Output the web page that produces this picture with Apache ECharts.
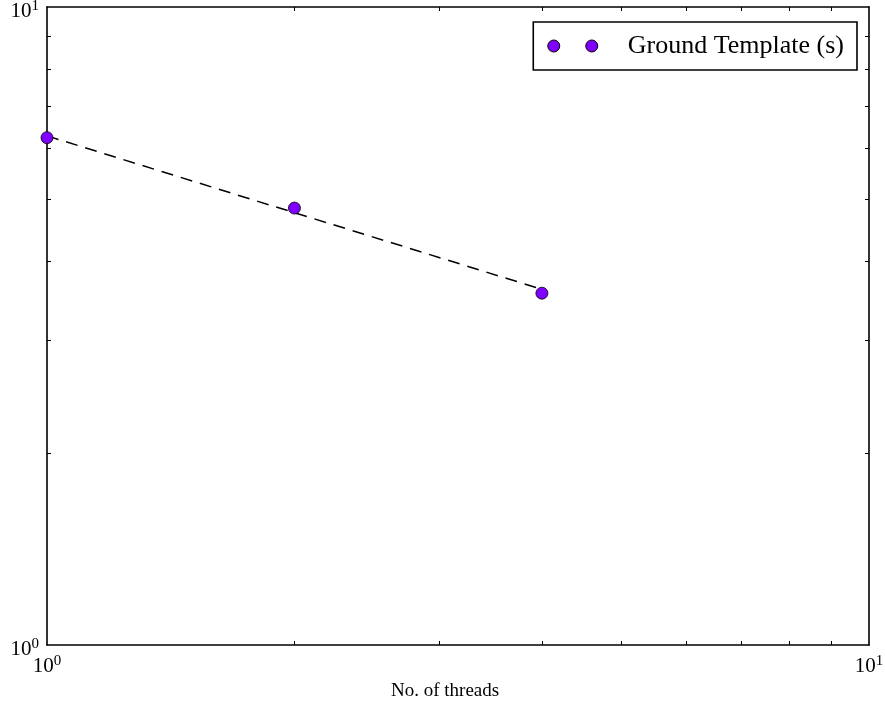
<!DOCTYPE html>
<html>
<head>
<meta charset="utf-8">
<script src="https://cdn.jsdelivr.net/npm/echarts@6/dist/echarts.min.js"></script>
<style>html,body{margin:0;padding:0;background:#fff}#c{width:885px;height:702px}</style>
</head>
<body>
<div id="c"></div>
<script>
// ---- data ----
const threads = [1, 2, 4];
const groundTemplate = [6.24, 4.84, 3.56];
const fitLine = [6.28, 4.76, 3.61];
const majorTicks = [1, 10];
const minorTicks = [2, 3, 4, 5, 6, 7, 8, 9];
const seriesName = 'Ground Template (s)';
const xAxisTitle = 'No. of threads';

const FONT = '"Liberation Serif", "DejaVu Serif", serif';
const chart = echarts.init(document.getElementById('c'), null, {renderer: 'canvas'});

function pow10Label(v) {
  const e = Math.round(Math.log10(v));
  return '{b|10}{s|' + e + '}';
}
const rich = {
  b: {fontFamily: FONT, fontSize: 21, color: '#000'},
  s: {fontFamily: FONT, fontSize: 15, color: '#000', padding: [0, 0, 9, 0]}
};
const lineStyle = {color: '#000', width: 1.6};
function axisBase(extra) {
  return Object.assign({
    type: 'log', logBase: 10, min: 1, max: 10,
    axisLine: {show: true, onZero: false, lineStyle: lineStyle},
    axisTick: {show: true, inside: true, length: 4, customValues: minorTicks, lineStyle: {color: '#000', width: 1}},
    minorTick: {show: false},
    splitLine: {show: false},
    minorSplitLine: {show: false}
  }, extra);
}

const legendIcon = 'path://M0,6a6,6 0 1,0 12,0a6,6 0 1,0 -12,0Z M38,6a6,6 0 1,0 12,0a6,6 0 1,0 -12,0Z';

chart.setOption({
  animation: false,
  backgroundColor: '#fff',
  grid: {left: 47, right: 16, top: 7, bottom: 57, containLabel: false, outerBoundsMode: 'none'},
  title: {
    text: xAxisTitle, left: 386, top: 677,
    textStyle: {fontFamily: FONT, fontSize: 19, fontWeight: 'normal', color: '#000'}
  },
  legend: {
    data: [seriesName],
    right: 28, top: 22,
    orient: 'horizontal',
    padding: [11, 13, 11, 14],
    borderColor: '#000', borderWidth: 1.6, borderRadius: 0,
    backgroundColor: '#fff',
    icon: legendIcon,
    itemWidth: 50, itemHeight: 12,
    itemStyle: {color: '#7f00ff', borderColor: '#000', borderWidth: 1},
    textStyle: {fontFamily: FONT, fontSize: 26, color: '#000', padding: [0, 0, 0, 25]},
    selectedMode: false
  },
  xAxis: [
    axisBase({position: 'bottom',
      axisLabel: {show: true, customValues: majorTicks, margin: 9, formatter: pow10Label, rich: rich}}),
    axisBase({position: 'top', axisLabel: {show: false}})
  ],
  yAxis: [
    axisBase({position: 'left',
      axisLabel: {show: true, customValues: majorTicks, margin: 8, padding: [8, 0, 0, 0], formatter: pow10Label, rich: rich}}),
    axisBase({position: 'right', axisLabel: {show: false}})
  ],
  series: [
    {
      name: 'fit', type: 'line', xAxisIndex: 0, yAxisIndex: 0,
      data: threads.map((x, i) => [x, fitLine[i]]),
      showSymbol: false, symbol: 'none',
      lineStyle: {color: '#000', width: 1.5, type: [12, 8]},
      z: 2, silent: true
    },
    {
      name: seriesName, type: 'scatter', xAxisIndex: 0, yAxisIndex: 0,
      data: threads.map((x, i) => [x, groundTemplate[i]]),
      symbol: 'circle', symbolSize: 12,
      itemStyle: {color: '#7f00ff', borderColor: '#000', borderWidth: 0.8, opacity: 1},
      z: 3, clip: false
    }
  ]
});
</script>
</body>
</html>
